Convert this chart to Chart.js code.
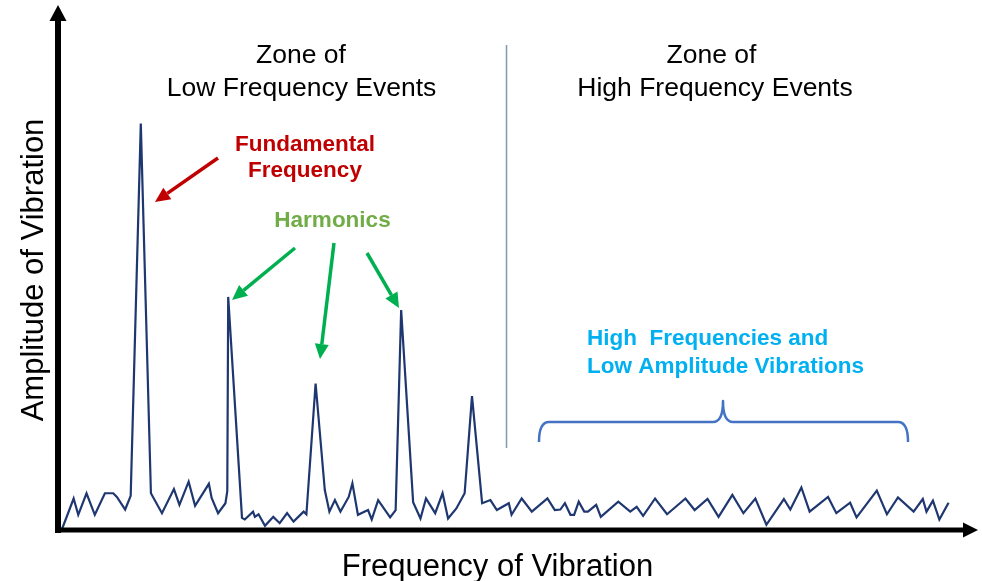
<!DOCTYPE html>
<html>
<head>
<meta charset="utf-8">
<script src="https://cdn.jsdelivr.net/npm/chart.js@4.4.0/dist/chart.umd.min.js"></script>
<style>
html,body{margin:0;padding:0;background:#fff;}
#wrap{width:982px;height:581px;position:relative;}
</style>
</head>
<body>
<div id="wrap"><canvas id="c" width="982" height="581"></canvas></div>
<script>
// Frequency (arbitrary units, 0-100 along the axis)
const frequency = [0.4,1.7,2.2,3.1,4.0,5.1,6.0,6.4,7.3,7.9,9.0,10.1,11.3,12.6,13.2,14.2,14.9,16.4,16.7,17.4,18.2,18.4,18.5,20.0,20.3,21.2,21.4,21.8,22.5,23.4,24.1,24.9,25.6,26.7,27.0,28.0,29.0,29.5,30.1,30.7,31.6,32.0,32.6,33.7,34.1,34.8,36.1,36.7,37.3,38.6,39.4,40.0,41.0,41.8,42.4,43.3,44.2,45.0,46.1,47.0,47.7,49.0,49.3,50.4,51.5,53.2,54.0,54.6,55.1,55.7,56.1,56.6,57.2,57.6,58.5,59.0,60.9,62.2,62.9,63.6,64.9,66.2,68.2,69.2,70.6,71.8,73.3,74.5,75.8,77.0,78.9,79.6,80.8,81.7,83.7,84.6,86.1,86.8,89.0,90.1,91.3,93.0,94.0,94.4,95.1,95.8,96.8];
// Amplitude of vibration (arbitrary units, 0-100 along the axis)
const amplitude = [0,6.0,2.9,7.0,2.9,7.0,7.0,6.3,3.9,6.5,77.4,7.0,3.2,7.8,4.8,9.2,4.6,8.8,6.1,3.2,5.1,7.4,44.4,2.3,2.0,3.5,2.5,3.0,0.8,2.5,1.3,3.2,1.6,3.5,3.0,27.9,7.6,3.5,5.7,3.5,6.3,8.9,2.9,3.8,2.0,5.7,2.4,3.8,41.9,5.3,2.2,6.0,3.2,7.0,2.2,4.1,7.0,25.5,5.1,5.7,3.8,5.1,2.9,6.0,3.5,6.0,3.8,3.9,5.1,2.9,2.9,5.4,3.5,3.5,4.8,2.5,5.4,3.5,4.4,2.7,6.0,3.0,6.0,3.8,5.9,2.5,6.7,3.2,6.0,1.0,5.9,3.9,8.1,3.5,6.3,3.2,5.2,2.4,7.5,3.0,6.2,3.5,5.9,3.5,5.6,2.0,5.2];

const xTitle = 'Frequency of Vibration';
const yTitle = 'Amplitude of Vibration';
const zoneLow = ['Zone of', 'Low Frequency Events'];
const zoneHigh = ['Zone of', 'High Frequency Events'];
const fundamentalLabel = ['Fundamental', 'Frequency'];
const harmonicsLabel = 'Harmonics';
const highFreqLabel = ['High  Frequencies and', 'Low Amplitude Vibrations'];

const points = frequency.map((f, i) => ({x: f, y: amplitude[i]}));

function arrow(ctx, x1, y1, x2, y2, color, w, hl, hw) {
  const a = Math.atan2(y2 - y1, x2 - x1);
  const bx = x2 - hl * Math.cos(a), by = y2 - hl * Math.sin(a);
  ctx.save();
  ctx.strokeStyle = color; ctx.fillStyle = color; ctx.lineWidth = w; ctx.lineCap = 'butt';
  ctx.beginPath(); ctx.moveTo(x1, y1); ctx.lineTo(bx, by); ctx.stroke();
  ctx.beginPath();
  ctx.moveTo(x2, y2);
  ctx.lineTo(bx + hw / 2 * Math.sin(a), by - hw / 2 * Math.cos(a));
  ctx.lineTo(bx - hw / 2 * Math.sin(a), by + hw / 2 * Math.cos(a));
  ctx.closePath(); ctx.fill();
  ctx.restore();
}

const decor = {
  id: 'decor',
  afterDatasetsDraw(chart) {
    const ctx = chart.ctx;
    const xs = chart.scales.x, ys = chart.scales.y;
    const x0 = xs.getPixelForValue(0), y0 = ys.getPixelForValue(0);
    const xEnd = xs.getPixelForValue(100), yEnd = ys.getPixelForValue(100);
    // axes
    arrow(ctx, x0, y0 + 3, x0, yEnd, '#000', 6, 16, 17);
    arrow(ctx, x0 - 3, y0, xEnd, y0, '#000', 5, 15, 15);

    ctx.save();
    // divider
    ctx.strokeStyle = '#8497B0'; ctx.lineWidth = 1.5;
    ctx.beginPath(); ctx.moveTo(506.5, 45); ctx.lineTo(506.5, 448); ctx.stroke();

    // zone labels
    ctx.fillStyle = '#000';
    ctx.font = '26.5px "Liberation Sans", Arial, sans-serif';
    ctx.textAlign = 'center'; ctx.textBaseline = 'alphabetic';
    ctx.fillText(zoneLow[0], 301, 63);
    ctx.fillText(zoneLow[1], 301.5, 96);
    ctx.fillText(zoneHigh[0], 711.5, 63);
    ctx.fillText(zoneHigh[1], 715, 96);

    // fundamental
    ctx.font = 'bold 22.5px "Liberation Sans", Arial, sans-serif';
    ctx.fillStyle = '#C00000';
    ctx.fillText(fundamentalLabel[0], 305, 151);
    ctx.fillText(fundamentalLabel[1], 305, 177);
    ctx.fillStyle = '#70AD47';
    ctx.fillText(harmonicsLabel, 332.5, 227);
    ctx.fillStyle = '#00B0F0';
    ctx.textAlign = 'left';
    ctx.fillText(highFreqLabel[0], 587, 345);
    ctx.fillText(highFreqLabel[1], 587, 373);

    // axis titles
    ctx.fillStyle = '#000';
    ctx.font = '31px "Liberation Sans", Arial, sans-serif';
    ctx.textAlign = 'center';
    ctx.fillText(xTitle, 497.5, 576);
    ctx.save();
    ctx.translate(42.5, 270);
    ctx.rotate(-Math.PI / 2);
    ctx.fillText(yTitle, 0, 0);
    ctx.restore();

    // brace
    ctx.strokeStyle = '#4472C4'; ctx.lineWidth = 2.5; ctx.lineJoin = 'round';
    ctx.beginPath();
    ctx.moveTo(539, 442);
    ctx.quadraticCurveTo(539, 422, 549, 422);
    ctx.lineTo(713, 422);
    ctx.quadraticCurveTo(723, 422, 723, 401);
    ctx.quadraticCurveTo(723, 422, 733, 422);
    ctx.lineTo(898, 422);
    ctx.quadraticCurveTo(908, 422, 908, 442);
    ctx.stroke();
    ctx.restore();

    // annotation arrows
    arrow(ctx, 218, 158, 155, 202, '#C00000', 3.5, 15, 14);
    arrow(ctx, 295, 248, 232, 300, '#00B050', 3.5, 15, 14);
    arrow(ctx, 334, 243, 320, 359, '#00B050', 3.5, 15, 14);
    arrow(ctx, 367, 253, 399, 308, '#00B050', 3.5, 15, 14);
  }
};

new Chart(document.getElementById('c'), {
  type: 'line',
  data: {
    datasets: [{
      data: points,
      borderColor: '#1F3770',
      borderWidth: 2.2,
      pointRadius: 0,
      tension: 0,
      fill: false
    }]
  },
  options: {
    responsive: false,
    devicePixelRatio: 1,
    animation: false,
    layout: {padding: {left: 58, right: 4, top: 5, bottom: 51}},
    plugins: {legend: {display: false}, tooltip: {enabled: false}},
    scales: {
      x: {type: 'linear', min: 0, max: 100, display: false},
      y: {type: 'linear', min: 0, max: 100, display: false}
    }
  },
  plugins: [decor]
});
</script>
</body>
</html>
